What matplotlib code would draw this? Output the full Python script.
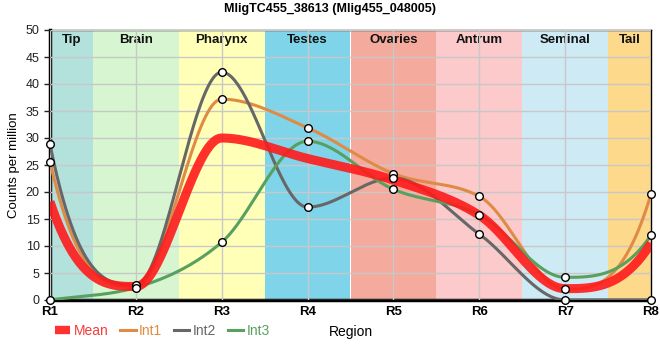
import numpy as np
import matplotlib
matplotlib.use("Agg")
import matplotlib.pyplot as plt
from matplotlib.lines import Line2D

plt.rcParams['font.family'] = ['Liberation Sans', 'DejaVu Sans']

# regiones (eje x) y valores por region
regions = ['R1', 'R2', 'R3', 'R4', 'R5', 'R6', 'R7', 'R8']
mean = [18.2, 2.5, 30.0, 26.2, 22.2, 15.7, 2.1, 10.5]
int1 = [25.6, 2.5, 37.2, 31.9, 23.4, 19.2, 2.0, 19.6]
int2 = [28.8, 2.8, 42.2, 17.2, 22.6, 12.2, 0.0, 0.0]
int3 = [0.0, 2.3, 10.7, 29.4, 20.5, 15.8, 4.2, 12.0]

# zonas del cuerpo
zonas = ['Tip', 'Brain', 'Pharynx', 'Testes', 'Ovaries', 'Antrum', 'Seminal', 'Tail']
bordes = [1, 1.5, 2.5, 3.5, 4.5, 5.5, 6.5, 7.5, 8]
colores_zona = ['#b3e2dd', '#d6f5d0', '#ffffb8', '#7fd4ea', '#f4aa9c', '#fccaca', '#ceeaf4', '#fdd98b']


def monotona(x, y, xs):
    # curva monotona (pendientes tipo d3 monotoneX)
    x = np.asarray(x, float)
    y = np.asarray(y, float)
    h = np.diff(x)
    s = np.diff(y) / h
    m = np.zeros_like(y)
    for k in range(1, len(x) - 1):
        p = (s[k - 1] * h[k] + s[k] * h[k - 1]) / (h[k - 1] + h[k])
        m[k] = (np.sign(s[k - 1]) + np.sign(s[k])) * min(abs(s[k - 1]), abs(s[k]), 0.5 * abs(p))
    for i, j, sec in [(0, 1, s[0]), (-1, -2, s[-1])]:
        e = 3 * sec - m[j]
        if np.sign(e) != np.sign(sec):
            e = 0
        m[i] = e
    idx = np.clip(np.searchsorted(x, xs) - 1, 0, len(x) - 2)
    t = (xs - x[idx]) / h[idx]
    h00 = 2 * t**3 - 3 * t**2 + 1
    h10 = t**3 - 2 * t**2 + t
    h01 = -2 * t**3 + 3 * t**2
    h11 = t**3 - t**2
    return h00 * y[idx] + h10 * h[idx] * m[idx] + h01 * y[idx + 1] + h11 * h[idx] * m[idx + 1]


fig = plt.figure(figsize=(6.6, 3.6), dpi=100)
ax = fig.add_axes([50 / 660, 1 - 300 / 360, 601 / 660, 270 / 360])

for i in range(len(zonas)):
    ax.axvspan(bordes[i], bordes[i + 1], color=colores_zona[i], lw=0, zorder=0)
    ax.text((bordes[i] + bordes[i + 1]) / 2, 48.2, zonas[i], ha='center', va='center',
            fontsize=9.5, fontweight='bold', color='#111111', zorder=1)

ax.grid(True, color='#c8c8c8', lw=1, zorder=1)
ax.set_axisbelow(False)

xr = np.arange(1, len(regions) + 1)
xs = np.linspace(1, 8, 700)
series = [
    (int1, '#df8b45', 'Int1'),
    (int2, '#676767', 'Int2'),
    (int3, '#58a05f', 'Int3'),
]
for vals, col, lab in series:
    ax.plot(xs, monotona(xr, vals, xs), color=col, lw=2.2, zorder=3)
ax.plot(xs, monotona(xr, mean, xs), color='#ff1a1a', lw=6.5, alpha=0.9,
        solid_capstyle='butt', zorder=4)

# circulos en cada region
for vals, col, lab in series:
    ax.plot(xr, vals, 'o', ms=5.5, mfc='white', mec='black', mew=1,
            zorder=6, clip_on=False)

ax.set_xlim(1, 8)
ax.set_ylim(0, 50)
ax.set_xticks(xr)
ax.set_xticklabels(regions, fontweight='bold', fontsize=9.5)
ax.set_yticks(range(0, 51, 5))
ax.tick_params(axis='y', labelsize=9, length=4, width=1, colors='#222222')
ax.tick_params(axis='x', length=0, pad=4)
ax.set_ylabel('Counts per million', fontsize=9.5)
ax.yaxis.set_label_coords(-30 / 601, 0.5)

for s in ['left', 'bottom']:
    ax.spines[s].set_linewidth(2.5)
for s in ['top', 'right']:
    ax.spines[s].set_linewidth(1)

fig.text(0.5, 1 - 9 / 360, 'MligTC455_38613 (Mlig455_048005)', ha='center', va='center',
         fontsize=9, fontweight='bold')
fig.text(351 / 660, 1 - 332 / 360, 'Region', ha='center', va='center', fontsize=10)

handles = [Line2D([], [], color='#ff1a1a', lw=6, alpha=0.9, solid_capstyle='butt')]
handles += [Line2D([], [], color=c, lw=2.2) for _, c, _ in series]
labels = ['Mean'] + [l for _, _, l in series]
fig.legend(handles, labels, loc='center left', bbox_to_anchor=(55 / 660, 1 - 331 / 360),
           ncol=4, frameon=False, fontsize=10, handlelength=1.1, handletextpad=0.25,
           columnspacing=0.85, borderpad=0, borderaxespad=0,
           labelcolor=['#f53b3b', '#df8b45', '#676767', '#58a05f'])

plt.savefig('out.png', dpi=100)
